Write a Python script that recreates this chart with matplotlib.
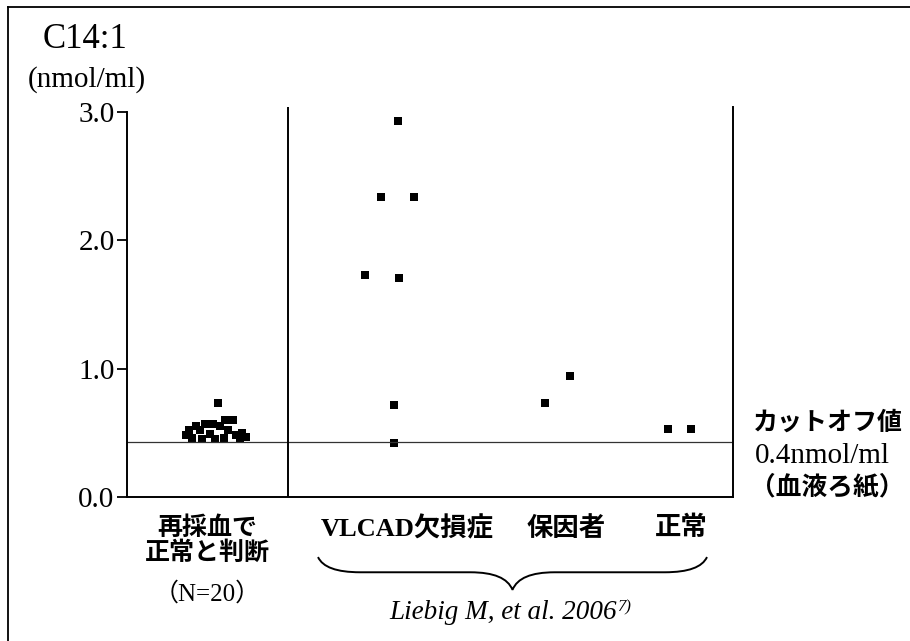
import matplotlib
matplotlib.use("Agg")
import matplotlib.pyplot as plt
from matplotlib.path import Path
from matplotlib.patches import PathPatch
from matplotlib.lines import Line2D

# ---------------- data ----------------
categories = ["再採血で\n正常と判断", "VLCAD欠損症", "保因者", "正常"]
n_label = "（N=20）"

# re-sampled group (N=20): horizontal jitter offsets and values (nmol/ml)
recheck_offsets = [0.03, 0.10, 0.18, -0.10, -0.02, -0.19, 0.05, -0.26, 0.13, -0.15,
                   0.27, -0.29, -0.05, 0.21, 0.31, -0.23, 0.00, 0.09, -0.13, 0.25]
recheck_values = [0.73, 0.60, 0.60, 0.57, 0.57, 0.55, 0.55, 0.52, 0.52, 0.52,
                  0.50, 0.48, 0.49, 0.48, 0.47, 0.46, 0.45, 0.46, 0.45, 0.45]

vlcad_offsets = [0.03, -0.14, 0.19, -0.30, 0.04, -0.01, -0.01]
vlcad_values = [2.93, 2.34, 2.34, 1.73, 1.71, 0.72, 0.42]

carrier_offsets = [-0.12, 0.13]
carrier_values = [0.73, 0.94]

normal_offsets = [-0.12, 0.11]
normal_values = [0.53, 0.53]

cutoff = 0.43
yticks = [0.0, 1.0, 2.0, 3.0]
ytick_labels = ["0.0", "1.0", "2.0", "3.0"]
citation = "Liebig M, et al. 2006"
citation_sup = "7)"

# ---------------- layout ----------------
W, H = 910, 641
fig = plt.figure(figsize=(W / 100, H / 100), dpi=100)
fig.patch.set_facecolor("white")

ax_l, ax_r, ax_b, ax_t = 127, 733, 497, 107
ax = fig.add_axes([ax_l / W, 1 - ax_b / H, (ax_r - ax_l) / W, (ax_b - ax_t) / H])
ax.set_xlim(0, 6.06)
ax.set_ylim(0, 3.04)

centers = [0.88, 2.68, 4.30, 5.53]
groups = [(recheck_offsets, recheck_values), (vlcad_offsets, vlcad_values),
          (carrier_offsets, carrier_values), (normal_offsets, normal_values)]
for c, (offs, vals) in zip(centers, groups):
    ax.plot([c + o for o in offs], vals, linestyle="none", marker="s",
            markersize=5.6, color="black", markeredgewidth=0)

# cutoff line and divider
ax.axhline(cutoff, color="#333333", linewidth=0.9)
ax.axvline(1.61, color="black", linewidth=1.4)

# spines
for s in ["left", "right", "bottom"]:
    ax.spines[s].set_linewidth(1.4)
ax.spines["top"].set_visible(False)
ax.spines["left"].set_bounds(0, 3.0)

serif = ["Liberation Serif", "Noto Sans CJK JP"]
cjk = ["Noto Sans CJK JP", "Liberation Serif"]

ax.set_yticks(yticks)
ax.set_yticklabels(ytick_labels, family=serif, fontsize=21)
ax.tick_params(axis="y", direction="out", length=7, width=1.3, pad=2)
ax.set_xticks([])

# category labels
tr = ax.get_xaxis_transform()
lab_x = [0.80, 2.80, 4.39, 5.54]
first = categories[0].split("\n")
ax.text(lab_x[0], -0.08, first[0], transform=tr, ha="center", va="center",
        family=cjk, fontsize=18, fontweight="bold")
ax.text(lab_x[0], -0.144, first[1], transform=tr, ha="center", va="center",
        family=cjk, fontsize=18, fontweight="bold")
ax.text(lab_x[0], -0.247, n_label, transform=tr, ha="center", va="center",
        family=serif, fontsize=18)
for x, lab in zip(lab_x[1:], categories[1:]):
    ax.text(x, -0.08, lab, transform=tr, ha="center", va="center",
            family=serif, fontsize=19, fontweight="bold")

# brace under the literature groups
x0, x1 = 1.91, 5.80
xm = (x0 + x1) / 2
ye, yh, yt = -0.154, -0.193, -0.238
verts = [(x0, ye), (x0 + 0.07, yh), (x0 + 0.42, yh), (xm - 0.42, yh),
         (xm - 0.07, yh), (xm, yt),
         (xm + 0.07, yh), (xm + 0.42, yh), (x1 - 0.42, yh),
         (x1 - 0.07, yh), (x1, ye)]
codes = [Path.MOVETO, Path.CURVE3, Path.CURVE3, Path.LINETO,
         Path.CURVE3, Path.CURVE3,
         Path.CURVE3, Path.CURVE3, Path.LINETO,
         Path.CURVE3, Path.CURVE3]
ax.add_patch(PathPatch(Path(verts, codes), transform=tr, fill=False,
                       linewidth=1.4, edgecolor="black", clip_on=False))

t = ax.text(xm - 0.09, -0.295, citation, transform=tr, ha="center", va="center",
            family=serif, fontsize=19.5, style="italic")
ax.annotate(citation_sup, xy=(1.0, 1.0), xycoords=t, ha="left", va="top",
            family=serif, fontsize=12, style="italic")

# y-axis title
fig.text(85 / W, 1 - 40 / H, "C14:1", ha="center", va="center",
         family=serif, fontsize=25)
fig.text(87 / W, 1 - 80 / H, "(nmol/ml)", ha="center", va="center",
         family=serif, fontsize=21)

# cutoff annotation
fig.text(828 / W, 1 - 423 / H, "カットオフ値", ha="center", va="center",
         family=cjk, fontsize=18, fontweight="bold")
fig.text(822 / W, 1 - 456 / H, "0.4nmol/ml", ha="center", va="center",
         family=serif, fontsize=21)
fig.text(827 / W, 1 - 488 / H, "（血液ろ紙）", ha="center", va="center",
         family=cjk, fontsize=18.5, fontweight="bold")

# outer frame (left and top edges)
fig.add_artist(Line2D([8 / W, 8 / W], [0, 1 - 7 / H], transform=fig.transFigure,
                      color="black", linewidth=1.3))
fig.add_artist(Line2D([8 / W, 1], [1 - 7 / H, 1 - 7 / H], transform=fig.transFigure,
                      color="black", linewidth=1.3))

fig.savefig("out.png", dpi=100)
